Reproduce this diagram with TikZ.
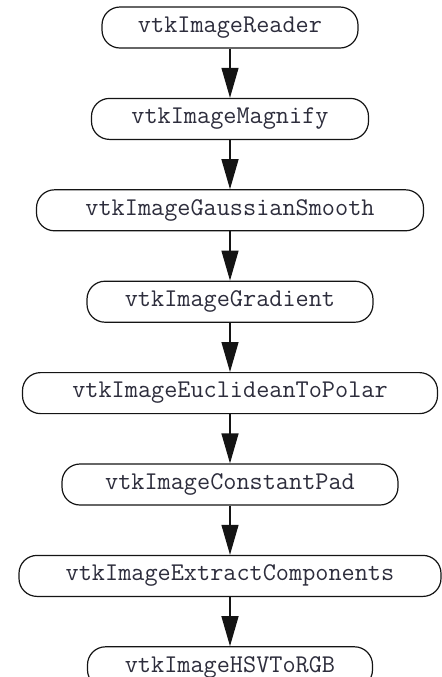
\documentclass[tikz,border=0pt]{standalone}
\usepackage{xcolor}
\usepackage{tikz}
\usetikzlibrary{arrows.meta, positioning}
\definecolor{mydark}{RGB}{20,20,20}
\definecolor{mytext}{RGB}{45,45,60}
\tikzset{
  filter/.style={rectangle, draw=mydark, fill=white, text=mytext,
    minimum height=20.5pt, inner sep=0pt, rounded corners=9pt,
    font=\fontsize{12.76}{14}\selectfont\ttfamily, line width=0.6pt},
  arrow/.style={-{Triangle[length=15pt, width=8.5pt]}, line width=0.65pt, color=mydark}
}

\begin{document}
\begin{tikzpicture}[node distance=24.6pt]
  \useasboundingbox (0,0) rectangle (221pt,-338.5pt);

  % --- pipeline filters ---
  \node[filter, minimum width=128pt] (reader) at (115pt,-13.75pt) {vtkImageReader};
  \node[filter, minimum width=138.5pt, below=of reader] (magnify) {vtkImageMagnify};
  \node[filter, minimum width=193.5pt, below=of magnify] (smooth) {vtkImageGaussianSmooth};
  \node[filter, minimum width=143pt, below=of smooth] (gradient) {vtkImageGradient};
  \node[filter, minimum width=207.5pt, below=of gradient] (polar) {vtkImageEuclideanToPolar};
  \node[filter, minimum width=168pt, below=of polar] (pad) {vtkImageConstantPad};
  \node[filter, minimum width=211pt, below=of pad] (extract) {vtkImageExtractComponents};
  \node[filter, minimum width=142.5pt, below=of extract] (hsv) {vtkImageHSVToRGB};

  % --- connections ---
  \draw[arrow] (reader) -- (magnify);
  \draw[arrow] (magnify) -- (smooth);
  \draw[arrow] (smooth) -- (gradient);
  \draw[arrow] (gradient) -- (polar);
  \draw[arrow] (polar) -- (pad);
  \draw[arrow] (pad) -- (extract);
  \draw[arrow] (extract) -- (hsv);
\end{tikzpicture}
\end{document}
